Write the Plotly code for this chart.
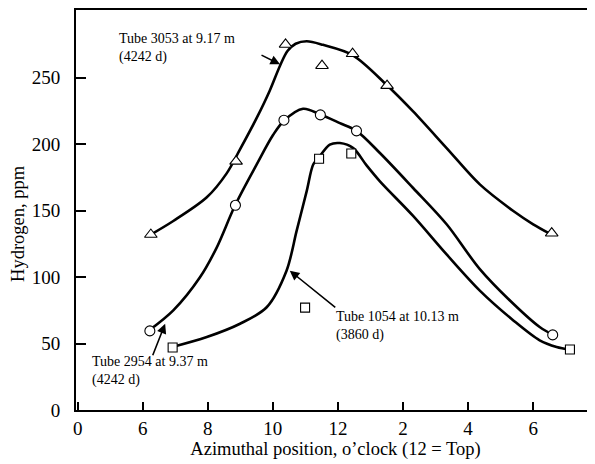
import plotly.graph_objects as go

# Measured points (hour of clock, continuous: 12 -> 12, 2 o'clock -> 14, ...)
tri_x = [6.25, 8.87, 10.39, 11.51, 12.45, 13.51, 18.57]
tri_y = [132, 187, 275, 259, 268, 244, 133]
circ_x = [6.22, 8.85, 10.34, 11.46, 12.57, 18.6]
circ_y = [59.5, 154, 218, 222, 210, 56.5]
sq_x = [6.92, 10.99, 11.42, 12.41, 19.13]
sq_y = [47, 77, 189, 193, 45.5]

# Hand-drawn fitted curves
tri_curve_x = [6.25, 6.94, 7.97, 8.58, 8.99, 9.5, 9.9, 10.22, 10.45, 10.7, 11.04, 11.54, 12.45,
               13.5, 14.31, 15.34, 16.36, 17.39, 18.0, 18.54]
tri_curve_y = [132, 142.2, 160, 178, 196, 219.5, 240, 259, 270, 275.5, 277.4, 274.7, 267,
               244.5, 224.6, 197, 169.7, 149.7, 139.7, 132.3]
circ_curve_x = [6.2, 6.94, 7.76, 8.27, 8.84, 9.5, 10.01, 10.34, 10.93, 11.46, 12.06, 12.57,
                13.29, 14.31, 15.34, 16.36, 17.39, 18.2, 18.6]
circ_curve_y = [59.9, 74.9, 99.8, 122, 154, 184.6, 207, 217.6, 226.6, 222.3, 215.8, 210,
                193.3, 167, 139.7, 106, 79.9, 62.4, 56.7]
sq_curve_x = [6.91, 7.97, 8.99, 9.81, 10.42, 10.73, 11.04, 11.24, 11.4, 11.75, 12.06, 12.47,
              12.88, 13.29, 14.31, 15.34, 16.36, 17.39, 18.2, 18.72, 19.13]
sq_curve_y = [47.4, 54.9, 64.9, 77.3, 104.8, 134.7, 164.7, 184.7, 189.5, 199.6, 200.8, 197,
              184, 172, 146, 117, 89.8, 67.4, 52.4, 47.4, 45.4]

x_tick_vals = [4, 6, 8, 10, 12, 14, 16, 18]
x_tick_text = ["0", "6", "8", "10", "12", "2", "4", "6"]
y_tick_vals = [0, 50, 100, 150, 200, 250]

FONT = "Liberation Serif, Times New Roman, serif"

fig = go.Figure()
for cx, cy in [(tri_curve_x, tri_curve_y), (circ_curve_x, circ_curve_y), (sq_curve_x, sq_curve_y)]:
    fig.add_trace(go.Scatter(x=cx, y=cy, mode="lines",
                             line=dict(color="black", width=2.6, shape="spline", smoothing=0.9),
                             hoverinfo="skip", showlegend=False))

fig.add_trace(go.Scatter(x=tri_x, y=tri_y, mode="markers", showlegend=False,
                         marker=dict(symbol="triangle-up", size=11, color="white",
                                     line=dict(color="black", width=1.1))))
fig.add_trace(go.Scatter(x=circ_x, y=circ_y, mode="markers", showlegend=False,
                         marker=dict(symbol="circle", size=10, color="white",
                                     line=dict(color="black", width=1.1))))
fig.add_trace(go.Scatter(x=sq_x, y=sq_y, mode="markers", showlegend=False,
                         marker=dict(symbol="square", size=9, color="white",
                                     line=dict(color="black", width=1.1))))

ann_font = dict(family=FONT, size=14, color="black")
annotations = [
    dict(x=5.2, y=272.5, xref="x", yref="y", text="Tube 3053 at 9.17 m<br>(4242 d)",
         showarrow=False, xanchor="left", yanchor="middle", align="left", font=ann_font),
    dict(x=10.22, y=260, xref="x", yref="y", text="", showarrow=True, ax=-20, ay=-10,
         arrowhead=2, arrowsize=1.2, arrowwidth=1.6, arrowcolor="black"),
    dict(x=4.38, y=29, xref="x", yref="y", text="Tube 2954 at 9.37 m<br>(4242 d)",
         showarrow=False, xanchor="left", yanchor="middle", align="left", font=ann_font),
    dict(x=6.69, y=64.9, xref="x", yref="y", text="", showarrow=True, ax=-13, ay=33,
         arrowhead=2, arrowsize=1.2, arrowwidth=1.6, arrowcolor="black"),
    dict(x=11.89, y=63, xref="x", yref="y", text="Tube 1054 at 10.13 m<br>(3860 d)",
         showarrow=False, xanchor="left", yanchor="middle", align="left", font=ann_font),
    dict(x=10.52, y=104.8, xref="x", yref="y", text="", showarrow=True, ax=47, ay=38,
         arrowhead=2, arrowsize=1.2, arrowwidth=1.6, arrowcolor="black"),
    dict(x=-0.1118, y=0.4677, xref="paper", yref="paper", text="Hydrogen, ppm",
         textangle=-90, showarrow=False, xanchor="center", yanchor="middle",
         font=dict(family=FONT, size=18.5, color="black")),
]

# page has an 8px body margin; the figure is sized/offset to compensate
fig.update_layout(
    width=587, height=456,
    margin=dict(l=68, r=0, t=0, b=54),
    paper_bgcolor="white", plot_bgcolor="white",
    font=dict(family=FONT, size=19, color="black"),
    annotations=annotations,
    showlegend=False,
)
fig.update_xaxes(range=[3.95, 19.9], tickmode="array", tickvals=x_tick_vals, ticktext=x_tick_text,
                 ticks="inside", ticklen=8, tickwidth=1.6, tickcolor="black",
                 showline=True, linewidth=2, linecolor="black", mirror=True,
                 showgrid=False, zeroline=False, tickfont=dict(size=19),
                 title=dict(text="Azimuthal position, o\u2019clock (12 = Top)", font=dict(size=18.5), standoff=4))
fig.update_yaxes(range=[0, 300.9], tickmode="array", tickvals=y_tick_vals,
                 ticks="inside", ticklen=10, tickwidth=1.6, tickcolor="black",
                 showline=True, linewidth=2, linecolor="black", mirror=False,
                 showgrid=False, zeroline=False, ticklabelstandoff=10, tickfont=dict(size=19))

fig.write_html("out.html")
